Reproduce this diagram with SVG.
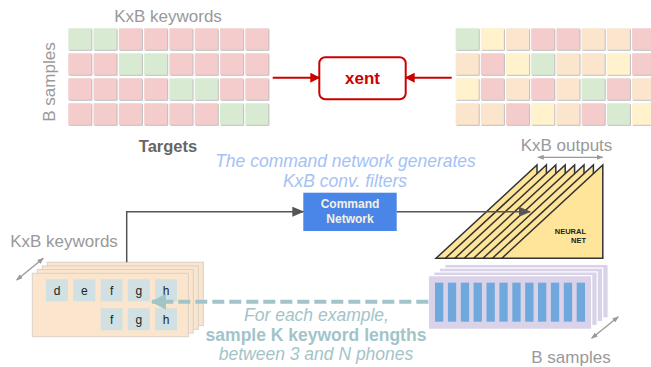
<svg xmlns="http://www.w3.org/2000/svg" width="651" height="367" viewBox="0 0 651 367">
<defs>
<style>
.g{fill:#d9ead3}.r{fill:#f4cccc}.o{fill:#fce5cd}.y{fill:#fff2cc}
.lbl{font-family:"Liberation Sans",Arial,sans-serif;font-size:17px;fill:#999999}
.tri{fill:#ffe599;stroke:#333333;stroke-width:1.5}
.pl{fill:#d9d2e9;stroke:#ffffff;stroke-width:1.2}
.ol{fill:#fce5cd;stroke:#d8d0c8;stroke-width:1}
.bar{fill:#6fa8dc}
.kb{fill:#d0e0e3}
.kt{font-family:"Liberation Sans",Arial,sans-serif;font-size:12px;fill:#222222;text-anchor:middle}
.blue{font-family:"Liberation Sans",Arial,sans-serif;font-size:17.5px;font-style:italic;fill:#a4c2f4;text-anchor:middle}
.teal{font-family:"Liberation Sans",Arial,sans-serif;font-size:17.5px;fill:#a2c4c9;text-anchor:middle}
</style>
<filter id="sh" x="-10%" y="-10%" width="130%" height="130%">
<feDropShadow dx="0.8" dy="0.8" stdDeviation="0.3" flood-color="#999999" flood-opacity="0.8"/>
</filter>
<marker id="ar" viewBox="0 0 10 10" refX="9" refY="5" markerWidth="10" markerHeight="10" markerUnits="userSpaceOnUse" orient="auto-start-reverse">
<path d="M0,0 L10,5 L0,10 z" fill="#cc0000"/>
</marker>
<marker id="ag" viewBox="0 0 12 10" refX="11" refY="5" markerWidth="12" markerHeight="10" markerUnits="userSpaceOnUse" orient="auto">
<path d="M0,0 L12,5 L0,10 z" fill="#555555"/>
</marker>
<marker id="as" viewBox="0 0 8 6" refX="7" refY="3" markerWidth="7" markerHeight="5" markerUnits="userSpaceOnUse" orient="auto-start-reverse">
<path d="M0,0 L8,3 L0,6 z" fill="#999999"/>
</marker>
<marker id="at" viewBox="0 0 15 16" refX="14" refY="8" markerWidth="15" markerHeight="16" markerUnits="userSpaceOnUse" orient="auto">
<path d="M0,0 L15,8 L0,16 z" fill="#a2c4c9"/>
</marker>
</defs>
<rect width="651" height="367" fill="#ffffff"/>

<g id="targets-grid" filter="url(#sh)">
<rect class="g" x="68.3" y="28.3" width="23" height="21.5"/><rect class="g" x="93.6" y="28.3" width="23" height="21.5"/><rect class="r" x="118.9" y="28.3" width="23" height="21.5"/><rect class="r" x="144.2" y="28.3" width="23" height="21.5"/><rect class="r" x="169.5" y="28.3" width="23" height="21.5"/><rect class="r" x="194.8" y="28.3" width="23" height="21.5"/><rect class="r" x="220.1" y="28.3" width="23" height="21.5"/><rect class="r" x="245.4" y="28.3" width="23" height="21.5"/>
<rect class="r" x="68.3" y="53.3" width="23" height="21.5"/><rect class="r" x="93.6" y="53.3" width="23" height="21.5"/><rect class="g" x="118.9" y="53.3" width="23" height="21.5"/><rect class="g" x="144.2" y="53.3" width="23" height="21.5"/><rect class="r" x="169.5" y="53.3" width="23" height="21.5"/><rect class="r" x="194.8" y="53.3" width="23" height="21.5"/><rect class="r" x="220.1" y="53.3" width="23" height="21.5"/><rect class="r" x="245.4" y="53.3" width="23" height="21.5"/>
<rect class="r" x="68.3" y="78.3" width="23" height="21.5"/><rect class="r" x="93.6" y="78.3" width="23" height="21.5"/><rect class="r" x="118.9" y="78.3" width="23" height="21.5"/><rect class="r" x="144.2" y="78.3" width="23" height="21.5"/><rect class="g" x="169.5" y="78.3" width="23" height="21.5"/><rect class="g" x="194.8" y="78.3" width="23" height="21.5"/><rect class="r" x="220.1" y="78.3" width="23" height="21.5"/><rect class="r" x="245.4" y="78.3" width="23" height="21.5"/>
<rect class="r" x="68.3" y="103.3" width="23" height="21.5"/><rect class="r" x="93.6" y="103.3" width="23" height="21.5"/><rect class="r" x="118.9" y="103.3" width="23" height="21.5"/><rect class="r" x="144.2" y="103.3" width="23" height="21.5"/><rect class="r" x="169.5" y="103.3" width="23" height="21.5"/><rect class="r" x="194.8" y="103.3" width="23" height="21.5"/><rect class="g" x="220.1" y="103.3" width="23" height="21.5"/><rect class="g" x="245.4" y="103.3" width="23" height="21.5"/>
</g>

<g id="outputs-grid" filter="url(#sh)">
<rect class="g" x="455.7" y="28.3" width="23" height="21.5"/><rect class="y" x="480.9" y="28.3" width="23" height="21.5"/><rect class="o" x="506.1" y="28.3" width="23" height="21.5"/><rect class="r" x="531.3" y="28.3" width="23" height="21.5"/><rect class="r" x="556.5" y="28.3" width="23" height="21.5"/><rect class="o" x="581.7" y="28.3" width="23" height="21.5"/><rect class="o" x="606.9" y="28.3" width="23" height="21.5"/><rect class="r" x="632.1" y="28.3" width="23" height="21.5"/>
<rect class="o" x="455.7" y="53.3" width="23" height="21.5"/><rect class="r" x="480.9" y="53.3" width="23" height="21.5"/><rect class="y" x="506.1" y="53.3" width="23" height="21.5"/><rect class="g" x="531.3" y="53.3" width="23" height="21.5"/><rect class="o" x="556.5" y="53.3" width="23" height="21.5"/><rect class="o" x="581.7" y="53.3" width="23" height="21.5"/><rect class="y" x="606.9" y="53.3" width="23" height="21.5"/><rect class="r" x="632.1" y="53.3" width="23" height="21.5"/>
<rect class="y" x="455.7" y="78.3" width="23" height="21.5"/><rect class="r" x="480.9" y="78.3" width="23" height="21.5"/><rect class="o" x="506.1" y="78.3" width="23" height="21.5"/><rect class="r" x="531.3" y="78.3" width="23" height="21.5"/><rect class="o" x="556.5" y="78.3" width="23" height="21.5"/><rect class="g" x="581.7" y="78.3" width="23" height="21.5"/><rect class="r" x="606.9" y="78.3" width="23" height="21.5"/><rect class="o" x="632.1" y="78.3" width="23" height="21.5"/>
<rect class="o" x="455.7" y="103.3" width="23" height="21.5"/><rect class="o" x="480.9" y="103.3" width="23" height="21.5"/><rect class="r" x="506.1" y="103.3" width="23" height="21.5"/><rect class="y" x="531.3" y="103.3" width="23" height="21.5"/><rect class="o" x="556.5" y="103.3" width="23" height="21.5"/><rect class="r" x="581.7" y="103.3" width="23" height="21.5"/><rect class="g" x="606.9" y="103.3" width="23" height="21.5"/><rect class="y" x="632.1" y="103.3" width="23" height="21.5"/>
</g>

<g id="labels">
<text class="lbl" x="168" y="22" text-anchor="middle">KxB keywords</text>
<text class="lbl" transform="translate(55,82) rotate(-90)" text-anchor="middle">B samples</text>
<text x="168" y="152" text-anchor="middle" font-family="Liberation Sans, Arial, sans-serif" font-size="16.5" font-weight="bold" fill="#666666">Targets</text>
<text class="lbl" x="566.5" y="150.5" text-anchor="middle">KxB outputs</text>
<text class="lbl" x="64" y="247" text-anchor="middle">KxB keywords</text>
<text class="lbl" x="571" y="363" text-anchor="middle">B samples</text>
<text class="blue" x="345.5" y="167">The command network generates</text>
<text class="blue" x="345" y="187">KxB conv. filters</text>
<text class="teal" x="316.5" y="321" font-style="italic">For each example,</text>
<text class="teal" x="316" y="341" font-weight="bold">sample K keyword lengths</text>
<text class="teal" x="316" y="360" font-style="italic">between 3 and N phones</text>
</g>

<g id="xent">
<rect x="319.3" y="57.3" width="86.4" height="42" rx="6" fill="#ffffff" stroke="#cc0000" stroke-width="2"/>
<text x="362.5" y="84" text-anchor="middle" font-family="Liberation Sans, Arial, sans-serif" font-size="17" font-weight="bold" fill="#cc0000">xent</text>
</g>

<g id="keywords-stack">
<rect class="ol" x="47.3" y="262.2" width="156" height="63.4"/>
<rect class="ol" x="42.3" y="265.9" width="156" height="63.4"/>
<rect class="ol" x="37.3" y="269.6" width="156" height="63.4"/>
<rect class="ol" x="32.3" y="273.3" width="156" height="63.4"/>
<rect class="kb" x="46" y="279.3" width="22" height="22"/><text class="kt" x="57" y="294.5">d</text>
<rect class="kb" x="73.3" y="279.3" width="22" height="22"/><text class="kt" x="84.3" y="294.5">e</text>
<rect class="kb" x="100.6" y="279.3" width="22" height="22"/><text class="kt" x="111.6" y="294.5">f</text>
<rect class="kb" x="127.8" y="279.3" width="22" height="22"/><text class="kt" x="138.8" y="294.5">g</text>
<rect class="kb" x="155" y="279.3" width="22" height="22"/><text class="kt" x="166" y="294.5">h</text>
<rect class="kb" x="100.6" y="308.3" width="22" height="22"/><text class="kt" x="111.6" y="323.5">f</text>
<rect class="kb" x="127.8" y="308.3" width="22" height="22"/><text class="kt" x="138.8" y="323.5">g</text>
<rect class="kb" x="155" y="308.3" width="22" height="22"/><text class="kt" x="166" y="323.5">h</text>
</g>

<g id="command-network">
<rect x="303.3" y="192.7" width="93.4" height="38.3" fill="#4a86e8"/>
<text x="350" y="208" text-anchor="middle" font-family="Liberation Sans, Arial, sans-serif" font-size="12" font-weight="bold" fill="#f6f1e4">Command</text>
<text x="350" y="223" text-anchor="middle" font-family="Liberation Sans, Arial, sans-serif" font-size="12" font-weight="bold" fill="#f6f1e4">Network</text>
</g>

<g id="neural-net">
<polygon class="tri" points="436,258.3 537,165 537,258.3"/>
<polygon class="tri" points="445.4,258.3 546.4,165 546.4,258.3"/>
<polygon class="tri" points="454.8,258.3 555.8,165 555.8,258.3"/>
<polygon class="tri" points="464.2,258.3 565.2,165 565.2,258.3"/>
<polygon class="tri" points="473.6,258.3 574.6,165 574.6,258.3"/>
<polygon class="tri" points="483,258.3 584,165 584,258.3"/>
<polygon class="tri" points="492.4,258.3 593.4,165 593.4,258.3"/>
<polygon class="tri" points="501.8,258.3 602.8,165 602.8,258.3"/>
<text x="586" y="233.5" text-anchor="end" font-family="Liberation Sans, Arial, sans-serif" font-size="7.5" font-weight="bold" fill="#222222">NEURAL</text>
<text x="586" y="242.5" text-anchor="end" font-family="Liberation Sans, Arial, sans-serif" font-size="7.5" font-weight="bold" fill="#222222">NET</text>
</g>

<g id="samples-stack">
<rect class="pl" x="444.8" y="264.3" width="163.4" height="53.6"/>
<rect class="pl" x="439.3" y="268.1" width="163.4" height="53.6"/>
<rect class="pl" x="433.8" y="271.9" width="163.4" height="53.6"/>
<rect class="pl" x="428.3" y="275.7" width="163.4" height="53.6"/>
<rect class="bar" x="435" y="282.7" width="8.3" height="39"/>
<rect class="bar" x="447.9" y="282.7" width="8.3" height="39"/>
<rect class="bar" x="460.8" y="282.7" width="8.3" height="39"/>
<rect class="bar" x="473.6" y="282.7" width="8.3" height="39"/>
<rect class="bar" x="486.5" y="282.7" width="8.3" height="39"/>
<rect class="bar" x="499.4" y="282.7" width="8.3" height="39"/>
<rect class="bar" x="512.3" y="282.7" width="8.3" height="39"/>
<rect class="bar" x="525.2" y="282.7" width="8.3" height="39"/>
<rect class="bar" x="538" y="282.7" width="8.3" height="39"/>
<rect class="bar" x="550.9" y="282.7" width="8.3" height="39"/>
<rect class="bar" x="563.8" y="282.7" width="8.3" height="39"/>
<rect class="bar" x="576.7" y="282.7" width="8.3" height="39"/>
</g>

<g id="connectors" fill="none">
<line x1="272.7" y1="77.7" x2="319.3" y2="77.7" stroke="#cc0000" stroke-width="2" marker-end="url(#ar)"/>
<line x1="451.7" y1="77.7" x2="405.7" y2="77.7" stroke="#cc0000" stroke-width="2" marker-end="url(#ar)"/>
<polyline points="126.7,262.2 126.7,211.7 303.3,211.7" stroke="#555555" stroke-width="1.5" marker-end="url(#ag)"/>
<line x1="396.7" y1="211.7" x2="530" y2="211.7" stroke="#555555" stroke-width="1.5" marker-end="url(#ag)"/>
<line x1="428.3" y1="301.7" x2="152" y2="301.7" stroke="#a2c4c9" stroke-width="4" stroke-dasharray="12 5" marker-end="url(#at)"/>
<line x1="538" y1="157.3" x2="602.7" y2="157.3" stroke="#999999" stroke-width="1.3" marker-start="url(#as)" marker-end="url(#as)"/>
<line x1="16.7" y1="280" x2="43.3" y2="258.3" stroke="#999999" stroke-width="1.3" marker-start="url(#as)" marker-end="url(#as)"/>
<line x1="591.7" y1="338.3" x2="618.3" y2="316.7" stroke="#999999" stroke-width="1.3" marker-start="url(#as)" marker-end="url(#as)"/>
</g>
</svg>
